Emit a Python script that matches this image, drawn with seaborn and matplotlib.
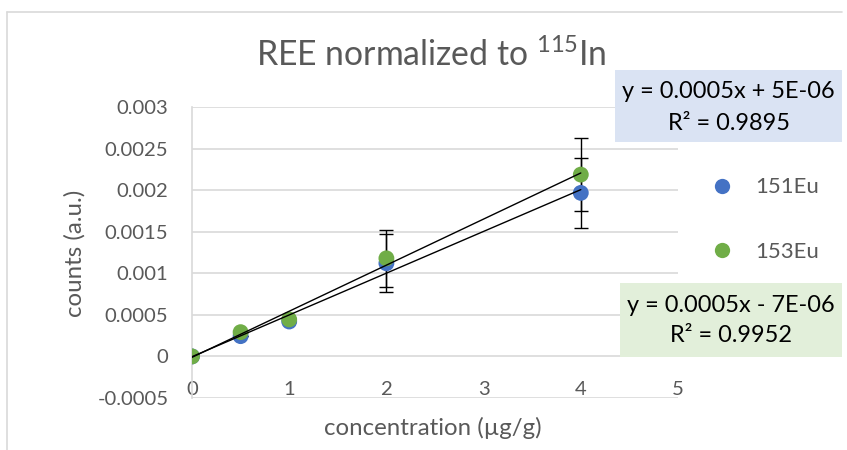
import numpy as np
import pandas as pd
import matplotlib
matplotlib.use("Agg")
import matplotlib.pyplot as plt
from matplotlib.patches import Rectangle
from matplotlib.lines import Line2D
import seaborn as sns

# ---- data ----
concentration = [0, 0.5, 1, 2, 4]
eu151 = [0.0, 0.000244, 0.00042, 0.00112, 0.001967]
eu153 = [0.0, 0.000292, 0.000445, 0.00118, 0.002187]
eu151_err = [0, 0, 0, 0.00035, 0.00042]
eu153_err = [0, 0, 0, 0.00034, 0.00044]
series_names = ["151Eu", "153Eu"]
colors = ["#4472C4", "#70AD47"]
eq_lines = ["y = 0.0005x + 5E-06", "y = 0.0005x - 7E-06"]
r2_lines = ["R² = 0.9895", "R² = 0.9952"]
box_colors = ["#DAE3F3", "#E2EFDA"]
x_ticks = [0, 1, 2, 3, 4, 5]
y_ticks = [-0.0005, 0, 0.0005, 0.001, 0.0015, 0.002, 0.0025, 0.003]
y_tick_labels = ["-0.0005", "0", "0.0005", "0.001", "0.0015", "0.002", "0.0025", "0.003"]

df = pd.DataFrame({
    "concentration": concentration * 2,
    "counts": eu151 + eu153,
    "isotope": [series_names[0]] * len(concentration) + [series_names[1]] * len(concentration),
})

sns.set_theme(style="white")
plt.rcParams["font.family"] = ["Lato", "DejaVu Sans"]

W, H = 847, 450
fig = plt.figure(figsize=(W / 100, H / 100), dpi=100)
ax = fig.add_axes([192 / W, 1 - 398 / H, (678 - 192) / W, (398 - 107) / H])

gray = "#595959"
grid = "#D9D9D9"

# error bars
for y, e in [(eu151, eu151_err), (eu153, eu153_err)]:
    ax.errorbar(concentration, y, yerr=e, fmt="none", ecolor="black",
                elinewidth=1.0, capsize=5, capthick=1.0, zorder=2)

sns.scatterplot(data=df, x="concentration", y="counts", hue="isotope",
                palette=colors, s=130, edgecolor="none", linewidth=0,
                ax=ax, zorder=3, legend=False)

for y in [eu151, eu153]:
    sns.regplot(x=concentration, y=y, ax=ax, scatter=False, ci=None,
                truncate=True, line_kws=dict(color="black", lw=1.0, zorder=4))

ax.set_xlim(0, 5)
ax.set_ylim(-0.0005, 0.003)
ax.set_yticks(y_ticks)
ax.set_yticklabels(y_tick_labels)
ax.set_xticks(x_ticks)
ax.set_xticklabels([str(t) for t in x_ticks])
ax.yaxis.grid(True, color=grid, lw=1.2)
ax.xaxis.grid(False)
for s in ["top", "right"]:
    ax.spines[s].set_visible(False)
ax.spines["left"].set_color(grid)
ax.spines["left"].set_linewidth(1.2)
ax.spines["bottom"].set_position(("data", 0))
ax.spines["bottom"].set_visible(False)
ax.tick_params(axis="y", length=0, pad=17, labelsize=14.6, labelcolor=gray)
ax.tick_params(axis="x", length=0, pad=18, labelsize=14.6, labelcolor=gray)
ax.set_xlabel("")
ax.set_ylabel("")

fig.text(75 / W, 1 - 253 / H, "counts (a.u.)", rotation=90, ha="center", va="center",
         fontsize=17.3, color=gray)
fig.text(433 / W, 1 - 428 / H, "concentration (µg/g)", ha="center", va="center",
         fontsize=17.3, color=gray)
fig.text(431 / W, 1 - 55 / H, "REE normalized to $\\mathregular{^{115}}$In", ha="center",
         va="center", fontsize=24.3, color=gray)

# legend
handles = [Line2D([], [], marker="o", ls="none", markersize=11, markerfacecolor=c,
                  markeredgecolor="none") for c in colors]
fig.legend(handles, series_names, loc="center left", bbox_to_anchor=(711 / W, 1 - 219.5 / H),
           frameon=False, labelspacing=2.0, handlelength=1.0, handletextpad=1.0,
           fontsize=15.9, labelcolor=gray, borderpad=0, borderaxespad=0)

# equation boxes
boxes = [(615, 70, 842, 142), (620, 283, 842, 357)]
for (x0, y0, x1, y1), eq, r2, bc in zip(boxes, eq_lines, r2_lines, box_colors):
    fig.patches.append(Rectangle((x0 / W, 1 - y1 / H), (x1 - x0) / W, (y1 - y0) / H,
                                 transform=fig.transFigure, facecolor=bc, edgecolor="none",
                                 zorder=5))
    xc = (x0 + x1) / 2 / W
    fig.text(xc, 1 - (y0 + 22) / H, eq, ha="center", va="center",
             fontsize=16.9, color="black", zorder=6)
    fig.text(xc, 1 - (y0 + 53) / H, r2, ha="center", va="center",
             fontsize=16.9, color="black", zorder=6)

# chart border
fig.add_artist(Line2D([7 / W, 842 / W], [1 - 12 / H, 1 - 12 / H], color="#D9D9D9",
                      lw=1.2, transform=fig.transFigure))
fig.add_artist(Line2D([7 / W, 7 / W], [1 - 12 / H, 0], color="#D9D9D9",
                      lw=1.2, transform=fig.transFigure))

fig.savefig("out.png", dpi=100, facecolor="white")
